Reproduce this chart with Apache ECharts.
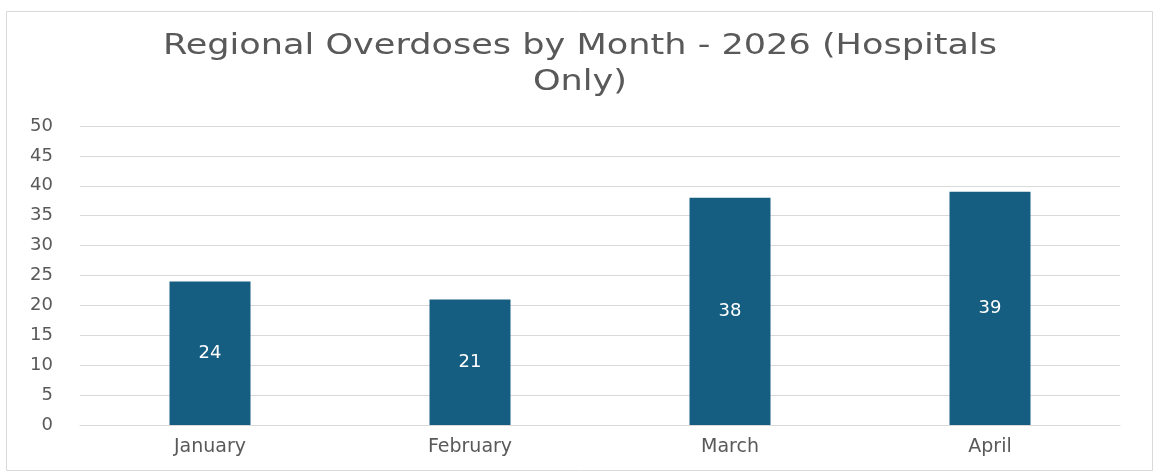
<!DOCTYPE html>
<html><head><meta charset="utf-8">
<script src="https://cdn.jsdelivr.net/npm/echarts@6/dist/echarts.min.js"></script>
<style>html,body{margin:0;padding:0;background:#fff}#c{width:1155px;height:473px}</style>
</head><body><div id="c"></div>
<script>
const titleLines = ["Regional Overdoses by Month - 2026 (Hospitals", "Only)"];
const categories = ["January", "February", "March", "April"];
const values = [24, 21, 38, 39];
const yTicks = [0, 50, 5];
const FONT = 'DejaVu Sans, Verdana, sans-serif';

const chart = echarts.init(document.getElementById('c'), null, {renderer: 'canvas'});
chart.setOption({
  animation: false,
  backgroundColor: '#fff',
  graphic: [{
    type: 'rect', left: 4, top: 9, shape: {width: 1146, height: 459},
    style: {fill: 'none', stroke: '#d9d9d9', lineWidth: 1}, silent: true
  }, {
    type: 'text', x: 580, y: 46, scaleX: 1.21, silent: true,
    style: {text: titleLines[0], fill: '#595959', font: '29px ' + FONT, align: 'center', verticalAlign: 'middle'}
  }, {
    type: 'text', x: 580, y: 82, scaleX: 1.21, silent: true,
    style: {text: titleLines[1], fill: '#595959', font: '29px ' + FONT, align: 'center', verticalAlign: 'middle'}
  }],
  grid: {left: 80, right: 35, top: 126, bottom: 48, containLabel: false},
  xAxis: {
    type: 'category', data: categories,
    axisLine: {show: true, lineStyle: {color: '#d9d9d9'}},
    axisTick: {show: false},
    axisLabel: {color: '#595959', fontSize: 19, fontFamily: FONT, margin: 13}
  },
  yAxis: {
    type: 'value', min: yTicks[0], max: yTicks[1], interval: yTicks[2],
    axisLine: {show: false}, axisTick: {show: false},
    axisLabel: {color: '#595959', fontSize: 18, fontFamily: FONT, margin: 27},
    splitLine: {lineStyle: {color: '#d9d9d9', width: 1}}
  },
  series: [{
    type: 'bar', data: values, barWidth: 81,
    itemStyle: {color: '#165E81'},
    label: {show: true, position: 'inside', color: '#fff', fontSize: 18, fontFamily: FONT}
  }]
});
</script></body></html>
